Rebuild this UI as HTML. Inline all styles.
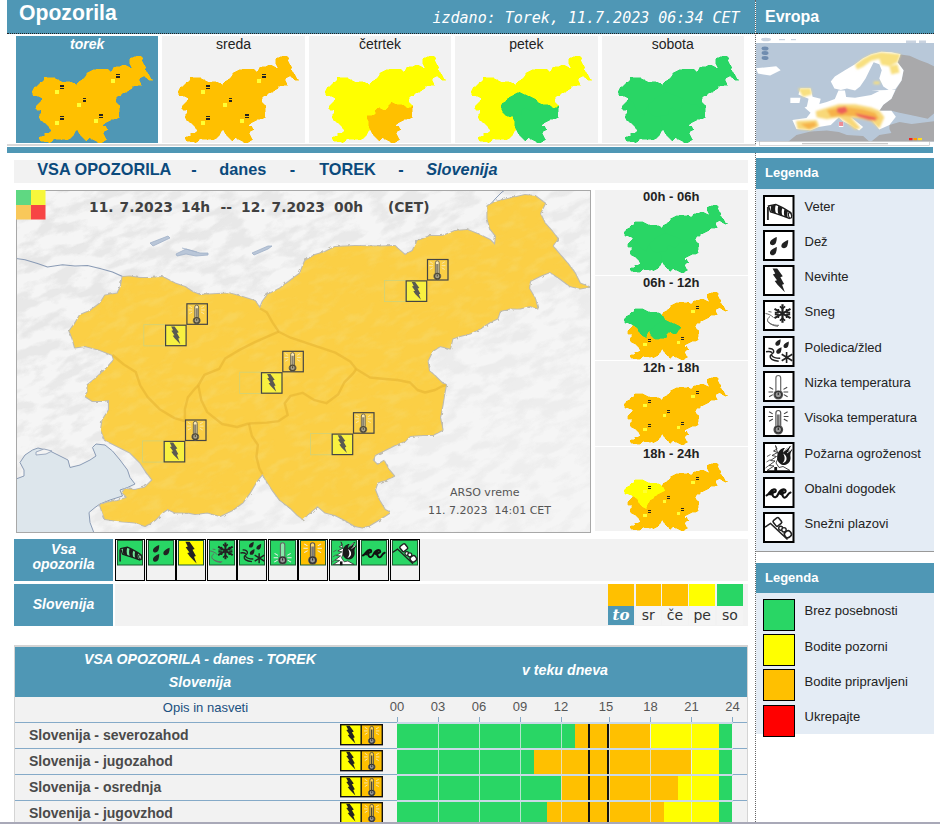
<!DOCTYPE html>
<html lang="sl"><head><meta charset="utf-8"><title>Opozorila</title>
<style>
html,body{margin:0;padding:0;background:#fff;}
body{width:940px;height:824px;position:relative;overflow:hidden;font-family:"Liberation Sans",Arial,sans-serif;color:#222;}
.abs{position:absolute;}
.blue{background:#4f97b5;}
.gray{background:#f2f2f2;}
.hd{color:#fff;font-weight:bold;}
.day{position:absolute;top:36px;width:142.4px;height:107px;background:#f2f2f2;text-align:center;font-size:14px;line-height:17px;color:#222;}
.day span{position:absolute;left:0;right:0;top:0.250px;}
.day.sel{background:#4f97b5;color:#fff;font-weight:bold;font-style:italic;}
.slot{position:absolute;left:594.5px;width:153.5px;height:84.5px;background:#f2f2f2;text-align:center;font-weight:bold;font-size:13px;line-height:14px;color:#222;}
.lrow{position:absolute;left:804.5px;font-size:13px;line-height:14px;color:#222;white-space:nowrap;}
.ibox{position:absolute;left:763px;width:27.5px;height:27px;border:2px solid #000;background:#fff;}
.cbox{position:absolute;left:763px;width:29.5px;height:30px;border:1px solid #000;}
.mapdv{font-family:"DejaVu Sans",sans-serif;}
.icell{position:absolute;top:539px;width:28px;height:40px;border:1px solid #000;background:#f2f2f2;}
.icell svg{position:absolute;left:1px;top:0px;}
.trow{position:absolute;left:15px;width:732px;height:25px;border-top:1px solid #85aac8;background:#f2f2f2;font-weight:bold;font-size:14px;color:#4a4a4a;}
.trow span{position:absolute;left:14px;top:4px;line-height:16px;white-space:nowrap;}
.tick{position:absolute;top:701px;width:30px;margin-left:-15px;text-align:center;font-size:13px;line-height:12px;color:#555;}
.tk{position:absolute;top:717px;width:1px;height:5px;background:#85aac8;}
.dw{position:absolute;top:583.8px;width:25.6px;height:21.8px;}
.dl{position:absolute;top:605.6px;width:25.6px;height:19.2px;background:#f4f4f4;text-align:center;font-family:"DejaVu Sans",sans-serif;font-size:14px;line-height:19px;color:#333;}
</style></head><body>

<svg width="0" height="0" style="position:absolute"><defs>
<path id="slo" d="M121,286 L122.5,277 L130,276.5 L140,278 L150,278 L162.5,277 L175,283.5 L185,287 L192.5,292 L200,295 L217.5,294 L230,293.5 L242.5,297 L255,301 L260,308.5 L262.5,302 L267.5,295 L280,288.5 L290,281 L300,273.5 L305,261 L315,255 L325,252 L335,247 L355,246 L380,246.5 L395,246 L397.5,248.5 L405,255 L412.5,251 L417.5,241 L430,236 L442.5,236 L455,231 L467.5,230 L480,235 L490,240 L495,245 L496,236 L490,228.5 L487.5,218.5 L487.5,206 L495,202 L510,198.5 L525,195 L535,196 L545,203.5 L540,213.5 L545,223.5 L552.5,232 L557.5,238.5 L552.5,246 L560,255 L567.5,263.5 L575,273.5 L580,283.5 L589,287 L580,288.5 L570,286 L560,278.5 L550,272 L540,276 L530,281 L529,288.5 L535,298.5 L537.5,308.5 L530,306 L520,308.5 L510,308.5 L500,311 L497.5,318.5 L490,322 L480,328.5 L470,333.5 L460,336 L452.5,338.5 L450,348.5 L440,346 L432.5,351 L427.5,361 L429,371 L435,376 L442.5,383.5 L446,385 L444,395 L442.5,405 L440,417.5 L442.5,430 L432.5,435 L422.5,435 L410,436 L405,441 L395,445 L385,450 L375,455 L372.5,460 L377.5,465 L384,461 L389,470 L394,476 L385,480 L377.5,482.5 L375,490 L379,500 L385,510 L390,512.5 L380,519 L370,525 L362.5,527.5 L355,526 L345,520 L335,515 L325,512.5 L317.5,506 L310,512.5 L302.5,519 L297.5,515 L290,507.5 L280,500 L272.5,490 L266,480 L262.5,474 L257.5,480 L250,492.5 L242.5,502.5 L232.5,510 L220,516 L207.5,512.5 L195,514 L187.5,512.5 L175,512.5 L167.5,509 L162.5,512.5 L155,520 L145,526 L135,522.5 L117.5,521 L105,519 L102.5,512.5 L100,505 L107.5,502.5 L117.5,501 L127.5,497.5 L122.5,492.5 L125,489 L135,490 L145,487.5 L152.5,480 L145,470 L140,462.5 L130,452.5 L115,445 L105,440 L101,430 L102.5,420 L109,410 L109,400 L102.5,401 L92.5,401 L85,396 L87.5,392.5 L87.5,385 L95,379 L105,370 L114,360 L112.5,355 L100,350 L85,346 L75,347.5 L72.5,338.5 L69.5,331 L75,323.5 L80,315 L90,311 L100,303.5 L105,295.5 L117.5,293.5Z"/>
<path id="r-nw" d="M112.5,355 L100,350 L85,346 L75,347.5 L72.5,338.5 L69.5,331 L75,323.5 L80,315 L90,311 L100,303.5 L105,295.5 L117.5,293.5 L121,286 L122.5,277 L130,276.5 L140,278 L150,278 L162.5,277 L175,283.5 L185,287 L192.5,292 L200,295 L217.5,294 L230,293.5 L242.5,297 L255,301 L260,308.5 L266.8,312.3 L272.8,322.8 L278.7,331.7 L254.9,342.1 L240,349.6 L225.1,358.5 L219.2,368.9 L204.3,374.9 L198.3,385.3 L195.3,388.3 L187.9,397.2 L184.9,409.2 L184.9,421.1 L174.5,418.1 L159.6,409.2 L147.7,397.2 L140.2,385.3 L135.7,371.9 L123.8,364.5Z"/>
<path id="r-sw" d="M262.5,474 L257.5,480 L250,492.5 L242.5,502.5 L232.5,510 L220,516 L207.5,512.5 L195,514 L187.5,512.5 L175,512.5 L167.5,509 L162.5,512.5 L155,520 L145,526 L135,522.5 L117.5,521 L105,519 L102.5,512.5 L100,505 L107.5,502.5 L117.5,501 L127.5,497.5 L122.5,492.5 L125,489 L135,490 L145,487.5 L152.5,480 L145,470 L140,462.5 L130,452.5 L115,445 L105,440 L101,430 L102.5,420 L109,410 L109,400 L102.5,401 L92.5,401 L85,396 L87.5,392.5 L87.5,385 L95,379 L105,370 L114,360 L112.5,355 L123.8,364.5 L135.7,371.9 L140.2,385.3 L147.7,397.2 L159.6,409.2 L174.5,418.1 L184.9,421.1 L184.9,409.2 L187.9,397.2 L195.3,388.3 L198.3,385.3 L201.3,400.2 L207.2,412.1 L222.1,424 L237,427 L248.9,423.5 L251.9,436 L257.9,444.9 L256.4,456.8 L259.4,468.7Z"/>
<path id="r-ce" d="M278.7,331.7 L254.9,342.1 L240,349.6 L225.1,358.5 L219.2,368.9 L204.3,374.9 L198.3,385.3 L201.3,400.2 L207.2,412.1 L222.1,424 L237,427 L248.9,423.5 L266.8,422.6 L278.7,421.1 L287.7,415.1 L284.7,403.2 L290.6,395.8 L302.6,392.8 L314.5,400.2 L326.4,403.2 L338.3,394.3 L344.3,382.3 L353.2,373.4 L356.2,369 L350.2,361.5 L335.3,352.6 L317.5,346.6 L308.5,343.6 L290.6,337.7Z"/>
<path id="r-se" d="M446,385 L444,395 L442.5,405 L440,417.5 L442.5,430 L432.5,435 L422.5,435 L410,436 L405,441 L395,445 L385,450 L375,455 L372.5,460 L377.5,465 L384,461 L389,470 L394,476 L385,480 L377.5,482.5 L375,490 L379,500 L385,510 L390,512.5 L380,519 L370,525 L362.5,527.5 L355,526 L345,520 L335,515 L325,512.5 L317.5,506 L310,512.5 L302.5,519 L297.5,515 L290,507.5 L280,500 L272.5,490 L266,480 L262.5,474 L259.4,468.7 L256.4,456.8 L257.9,444.9 L251.9,436 L248.9,423.5 L266.8,422.6 L278.7,421.1 L287.7,415.1 L284.7,403.2 L290.6,395.8 L302.6,392.8 L314.5,400.2 L326.4,403.2 L338.3,394.3 L344.3,382.3 L353.2,373.4 L356.2,369 L370,377.5 L385,379 L397.5,380 L410,382.5 L417.5,390 L425,392.5 L435,390 L442.5,386Z"/>
<path id="r-ne" d="M260,308.5 L262.5,302 L267.5,295 L280,288.5 L290,281 L300,273.5 L305,261 L315,255 L325,252 L335,247 L355,246 L380,246.5 L395,246 L397.5,248.5 L405,255 L412.5,251 L417.5,241 L430,236 L442.5,236 L455,231 L467.5,230 L480,235 L490,240 L495,245 L496,236 L490,228.5 L487.5,218.5 L487.5,206 L495,202 L510,198.5 L525,195 L535,196 L545,203.5 L540,213.5 L545,223.5 L552.5,232 L557.5,238.5 L552.5,246 L560,255 L567.5,263.5 L575,273.5 L580,283.5 L589,287 L580,288.5 L570,286 L560,278.5 L550,272 L540,276 L530,281 L529,288.5 L535,298.5 L537.5,308.5 L530,306 L520,308.5 L510,308.5 L500,311 L497.5,318.5 L490,322 L480,328.5 L470,333.5 L460,336 L452.5,338.5 L450,348.5 L440,346 L432.5,351 L427.5,361 L429,371 L435,376 L442.5,383.5 L446,385 L442.5,386 L435,390 L425,392.5 L417.5,390 L410,382.5 L397.5,380 L385,379 L370,377.5 L356.2,369 L350.2,361.5 L335.3,352.6 L317.5,346.6 L308.5,343.6 L290.6,337.7 L278.7,331.7 L272.8,322.8 L266.8,312.3Z"/>

<symbol id="i-wind" viewBox="0 0 31.5 31"><path d="M4.900 12v13" stroke="#2a2a2a" stroke-width="1.900" fill="none"/><path d="M5.500 11 L12.700 9.400 C18 11.500 23 14.500 27.800 17.600 L28.600 20.300 L26.200 23.400 C20 21 13 18.500 7.500 16.900Z" fill="var(--sock,#fff)" stroke="#1c1c1c" stroke-width="1.400"/><path d="M8.300 10.400 L13 9.400 C11.800 12 11.800 15.500 13.100 18.700 L8.600 17.200 C7.600 15 7.600 12.500 8.300 10.400Z M15.400 10.600 L19.600 12.700 C18.400 15 18.400 18 19.600 21 L15.600 19.600 C14.500 17 14.500 13.500 15.400 10.600Z M21.500 13.900 L25 15.900 C24 18 24 20.500 25 23 L21.700 21.800 C20.700 19.500 20.700 16.500 21.500 13.900Z" fill="#1c1c1c"/><ellipse cx="27" cy="20.400" rx="1.500" ry="2.800" transform="rotate(-15 27 20.400)" fill="var(--sock,#fff)" stroke="#222" stroke-width="1.200"/></symbol>
<symbol id="i-rain" viewBox="0 0 31.5 31"><g fill="#222"><path d="M13.800 7 C10 8.500 6.500 10.500 7 13.600 C7.800 16.200 12 15.800 13 12.600 C13.600 10.600 13.900 8.800 13.800 7Z"/><path d="M25.200 10 C21.400 11.500 17.900 13.500 18.400 16.600 C19.200 19.200 23.400 18.800 24.400 15.600 C25 13.600 25.300 11.800 25.200 10Z"/><path d="M13.800 17 C10 18.500 6.500 20.500 7 23.600 C7.800 26.200 12 25.800 13 22.600 C13.600 20.600 13.900 18.800 13.800 17Z"/></g></symbol>
<symbol id="i-bolt" viewBox="0 0 31.5 31"><path d="M9.600 3.500 L14.200 3.500 L19.800 11.300 L17.400 12.200 L21.100 19 L19.100 19.800 L21.900 27.300 L14.500 19.700 L11.700 15.900 L14 15.200 L9.900 9.400 L12.200 8.600Z" fill="var(--bolt,#222)"/></symbol>
<symbol id="i-snow" viewBox="0 0 31.5 31"><g stroke="#222" stroke-width="2" fill="none" stroke-linecap="butt"><path d="M19.500 4.300v18.400M11.500 8.900l16 9.200M11.500 18.100l16-9.200" stroke-width="2.200"/><path d="M16.900 6.300l2.600 2.400 2.600-2.400M16.900 20.700l2.600-2.400 2.600 2.400M11.800 12.600l3.300-.2.300-3.400M27.200 14.400l-3.300.2-.3 3.400M11.800 14.400l3.300.2.300 3.400M27.200 12.600l-3.300-.2-.3-3.400" stroke-width="1.600"/></g><g stroke="#666" stroke-width="1" fill="none"><path d="M5.500 11.500l3 .6M2.500 13.500c3 .5 5.500 1.500 8 4"/><path d="M7 16.500c-3 2-3.500 5 0 7 3 1.500 6 2 9 1.800M5 21.500c2 3 6 4.500 10 4.800"/></g></symbol>
<symbol id="i-ice" viewBox="0 0 31.5 31"><g fill="#222"><path d="M17.600 3.300 C14.500 4.500 12 6.200 12.400 8.500 C13 10.500 16.200 10.200 17 7.700 C17.500 6.200 17.700 4.700 17.600 3.300Z"/><path d="M25.800 5.600 C22.700 6.800 20.200 8.500 20.600 10.800 C21.200 12.800 24.400 12.500 25.200 10 C25.700 8.500 25.900 7 25.800 5.600Z"/><path d="M18.500 11.300 C15.400 12.500 12.900 14.200 13.300 16.500 C13.900 18.500 17.100 18.200 17.900 15.700 C18.400 14.200 18.600 12.700 18.500 11.300Z"/></g><g stroke="#222" stroke-width="1.600" fill="none"><path d="M23.600 16v11M18.700 18.200l10.600 6.600M18.700 24.800l10.600-6.600"/><path d="M3 15.800c2.500-.5 4.500-.5 6 .8M5.500 12.500c3-.5 5.500 1 5.200 3.300-.3 2-3 2.300-3.500 4.200-.4 2.500 2 4.500 8.500 5.200M8.500 19c1 2.200 4 3.300 8.700 3.300" stroke-width="1.500"/></g></symbol>
<symbol id="i-cold" viewBox="0 0 31.5 31"><path d="M12.900 6.900a2.400 2.400 0 0 1 4.800 0v13.200a4.300 4.300 0 1 1-4.800 0Z" fill="var(--tube,#fff)" stroke="#666" stroke-width="1.200"/><circle cx="15.300" cy="23.600" r="3.400" fill="#999" stroke="#333" stroke-width="1.500"/><path d="M15.300 21.500v2.500" stroke="#333" stroke-width="1.300"/><g stroke="var(--ray,#444)" stroke-width="1.100"><path d="M5.500 21h4.700M6.500 16.200l3.700 2.200M6.100 25.800l3.700-2.200M25.200 21h-4.700M24.200 16.200l-3.700 2.200M24.600 25.800l-3.700-2.200"/></g></symbol>
<symbol id="i-hot" viewBox="0 0 31.5 31"><path d="M12.900 6.900a2.400 2.400 0 0 1 4.800 0v13.200a4.300 4.300 0 1 1-4.800 0Z" fill="var(--tube,#fff)" stroke="#555" stroke-width="1.200"/><path d="M15.300 8.500v13" stroke="var(--merc,#777)" stroke-width="var(--mw,2.800)"/><circle cx="15.300" cy="23.600" r="3.400" fill="#999" stroke="#333" stroke-width="1.500"/><path d="M15.300 21.500v2.500" stroke="#333" stroke-width="1.300"/><g stroke="var(--ray,#444)" stroke-width="1.100"><path d="M5.200 10.500h4.800M6.100 5.700l3.600 2.200M6.100 15.300l3.800-2.200M25.500 10.500h-4.800M24.600 5.700l-3.600 2.200M24.600 15.300l-3.800-2.200"/></g></symbol>
<symbol id="i-fire" viewBox="0 0 31.5 31"><path d="M12.500 3.500 L14 7 L10.500 9 L14.500 10.500 L9 13.500 L13.500 14.500 L7.500 18.500 L12 19 L6 23.500 L11 24 L4 28.500 L27 28.500 L20 24.500 L16 25.500 L13 21 L16 14 L14 9Z" fill="#fff" stroke="#333" stroke-width=".9"/><path d="M4 14.500l3.500-2M3.500 20l4-2.500M2.500 26l4-3" stroke="#555" stroke-width=".9"/><rect x="11.300" y="25" width="2.800" height="4.500" fill="#111"/><path d="M14.500 12.500 C15.500 8 19.500 5.500 22 6 C20.500 7.500 20 9 20.500 10.500 C22 8 25 4.500 28.500 3.500 C26.500 6 25.500 8 25.500 9.500 C27 8 28.500 7.500 29.500 7.500 C27.500 10 27 12.500 27.500 15 C28 19 25.500 22.500 21.500 23 C18.500 23.300 15.500 21 14.500 18 C14 16 14 14 14.500 12.500Z" fill="#1a1a1a"/><path d="M20 11.500 C22.500 12.500 24 15 23.500 17.500 C23 19.500 21.500 21 19.500 21.300 C22 19 22.500 15 20 11.500Z" fill="#fff"/><path d="M22.500 8.500l3.500-3.500M24 11l4-3" stroke="#fff" stroke-width=".8"/></symbol>
<symbol id="i-coast" viewBox="0 0 31.5 31"><path d="M3.500 18.500 C6.500 17.500 7 12.500 11 12.200 C13.200 12.200 13.500 15 11 15.300 C9.500 15.500 9 17 10 19 C11.500 21.500 14 20 15 17.500 C16.500 14 18 12.500 20.500 12.400 C23 12.400 23.500 15.500 20.800 15.800 C19.500 16 19 17.500 20 19.500 C21.500 21.800 23.500 20 24.500 18.200 C25.500 16.500 26 16 27.500 15.500" fill="none" stroke="#111" stroke-width="2.100" stroke-linecap="round" stroke-linejoin="round"/><path d="M4.500 18 C7 16.500 7.500 13 10.500 12.500 L11 14.500 C9 15 8.500 17 9.200 18.500Z M15.500 17 C17 14 18.500 12.800 20.500 12.600 L20.800 15 C19 15.500 18.500 17.500 19.500 19Z" fill="#111"/></symbol>
<symbol id="i-aval" viewBox="0 0 31.5 31"><path d="M2 15.200 L7.500 11.500 L24.500 27.500" fill="none" stroke="#222" stroke-width="1.500"/><rect x="10.900" y="6.400" width="7" height="7" rx="1.500" transform="rotate(-38 14.400 9.900)" fill="#fff" stroke="#222" stroke-width="1.600"/><circle cx="17.700" cy="16.300" r="2" fill="#fff" stroke="#222" stroke-width="1.400"/><circle cx="21" cy="17.800" r="2.200" fill="#fff" stroke="#222" stroke-width="1.400"/><rect x="21.600" y="19" width="6.600" height="6.400" rx="2.600" transform="rotate(-35 24.900 22.200)" fill="#fff" stroke="#222" stroke-width="1.600"/></symbol>

</defs></svg>
<div class="abs blue" style="left:7px;top:0;width:748px;height:33px;border-bottom:1px dotted #222"></div>
<div class="abs hd" style="left:19px;top:0px;font-size:21.200px;line-height:26px">Opozorila</div>
<div class="abs" style="left:432.500px;top:8.500px;color:#fff;font-family:'DejaVu Sans Mono',monospace;font-style:italic;font-size:15px;line-height:19px;white-space:nowrap">izdano: Torek, 11.7.2023 06:34 CET</div>
<div class="abs blue" style="left:756px;top:0;width:178px;height:33px;border-bottom:1px dotted #222"></div>
<div class="abs hd" style="left:765px;top:7px;font-size:16px;line-height:19px">Evropa</div>
<div class="abs" style="left:755px;top:0;width:0;height:824px;border-left:1px dotted #666"></div>
<div class="day sel" style="left:16px"><span>torek</span></div>
<svg class="abs" style="left:32.0px;top:56px" width="121.3" height="87.2" viewBox="69.5 195 519.5 332.5" preserveAspectRatio="none" shape-rendering="crispEdges"><use href="#r-nw" fill="#ffc000" stroke="#ffc000" stroke-width="2"/><use href="#r-sw" fill="#ffc000" stroke="#ffc000" stroke-width="2"/><use href="#r-ce" fill="#ffc000" stroke="#ffc000" stroke-width="2"/><use href="#r-se" fill="#ffc000" stroke="#ffc000" stroke-width="2"/><use href="#r-ne" fill="#ffc000" stroke="#ffc000" stroke-width="2"/><rect x="167" y="326" width="17" height="15" fill="#ffff33"/><rect x="190" y="307" width="16" height="5" fill="#222"/><rect x="190" y="316" width="16" height="5" fill="#222"/><rect x="263" y="374" width="17" height="15" fill="#ffff33"/><rect x="286" y="355" width="16" height="5" fill="#222"/><rect x="286" y="364" width="16" height="5" fill="#222"/><rect x="408" y="283" width="17" height="15" fill="#ffff33"/><rect x="431" y="264" width="16" height="5" fill="#222"/><rect x="431" y="273" width="16" height="5" fill="#222"/><rect x="166" y="443" width="17" height="15" fill="#ffff33"/><rect x="189" y="424" width="16" height="5" fill="#222"/><rect x="189" y="433" width="16" height="5" fill="#222"/><rect x="334" y="436" width="17" height="15" fill="#ffff33"/><rect x="357" y="417" width="16" height="5" fill="#222"/><rect x="357" y="426" width="16" height="5" fill="#222"/></svg>
<div class="day" style="left:162.4px"><span>sreda</span></div>
<svg class="abs" style="left:178.4px;top:56px" width="121.3" height="87.2" viewBox="69.5 195 519.5 332.5" preserveAspectRatio="none" shape-rendering="crispEdges"><use href="#r-nw" fill="#ffc000" stroke="#ffc000" stroke-width="2"/><use href="#r-sw" fill="#ffc000" stroke="#ffc000" stroke-width="2"/><use href="#r-ce" fill="#ffc000" stroke="#ffc000" stroke-width="2"/><use href="#r-se" fill="#ffc000" stroke="#ffc000" stroke-width="2"/><use href="#r-ne" fill="#ffc000" stroke="#ffc000" stroke-width="2"/><rect x="167" y="326" width="17" height="15" fill="#ffff33"/><rect x="190" y="307" width="16" height="5" fill="#222"/><rect x="190" y="316" width="16" height="5" fill="#222"/><rect x="263" y="374" width="17" height="15" fill="#ffff33"/><rect x="286" y="355" width="16" height="5" fill="#222"/><rect x="286" y="364" width="16" height="5" fill="#222"/><rect x="408" y="283" width="17" height="15" fill="#ffff33"/><rect x="431" y="264" width="16" height="5" fill="#222"/><rect x="431" y="273" width="16" height="5" fill="#222"/><rect x="166" y="443" width="17" height="15" fill="#ffff33"/><rect x="189" y="424" width="16" height="5" fill="#222"/><rect x="189" y="433" width="16" height="5" fill="#222"/><rect x="334" y="436" width="17" height="15" fill="#ffff33"/><rect x="357" y="417" width="16" height="5" fill="#222"/><rect x="357" y="426" width="16" height="5" fill="#222"/></svg>
<div class="day" style="left:308.8px"><span>četrtek</span></div>
<svg class="abs" style="left:324.8px;top:56px" width="121.3" height="87.2" viewBox="69.5 195 519.5 332.5" preserveAspectRatio="none" shape-rendering="crispEdges"><use href="#r-nw" fill="#ffff00" stroke="#ffff00" stroke-width="2"/><use href="#r-sw" fill="#ffff00" stroke="#ffff00" stroke-width="2"/><use href="#r-ce" fill="#ffff00" stroke="#ffff00" stroke-width="2"/><use href="#r-se" fill="#ffc000" stroke="#ffc000" stroke-width="2"/><use href="#r-ne" fill="#ffff00" stroke="#ffff00" stroke-width="2"/></svg>
<div class="day" style="left:455.2px"><span>petek</span></div>
<svg class="abs" style="left:471.20000000000005px;top:56px" width="121.3" height="87.2" viewBox="69.5 195 519.5 332.5" preserveAspectRatio="none" shape-rendering="crispEdges"><use href="#r-nw" fill="#ffff00" stroke="#ffff00" stroke-width="2"/><use href="#r-sw" fill="#ffff00" stroke="#ffff00" stroke-width="2"/><use href="#r-ce" fill="#29d665" stroke="#29d665" stroke-width="2"/><use href="#r-se" fill="#29d665" stroke="#29d665" stroke-width="2"/><use href="#r-ne" fill="#ffff00" stroke="#ffff00" stroke-width="2"/></svg>
<div class="day" style="left:601.6px"><span>sobota</span></div>
<svg class="abs" style="left:617.6px;top:56px" width="121.3" height="87.2" viewBox="69.5 195 519.5 332.5" preserveAspectRatio="none" shape-rendering="crispEdges"><use href="#r-nw" fill="#29d665" stroke="#29d665" stroke-width="2"/><use href="#r-sw" fill="#29d665" stroke="#29d665" stroke-width="2"/><use href="#r-ce" fill="#29d665" stroke="#29d665" stroke-width="2"/><use href="#r-se" fill="#29d665" stroke="#29d665" stroke-width="2"/><use href="#r-ne" fill="#29d665" stroke="#29d665" stroke-width="2"/></svg>
<div class="abs" style="left:7px;top:144px;width:927px;height:2px;background:#d8d8d8"></div>
<div class="abs blue" style="left:7px;top:147px;width:926px;height:6px"></div>
<div class="abs gray" style="left:14px;top:160px;width:734px;height:23px"></div>
<div class="abs" style="left:37.2px;top:159px;font-size:16.300px;font-weight:bold;line-height:21px;color:#0b4a7c;white-space:nowrap;">VSA OPOZORILA</div>
<div class="abs" style="left:191.2px;top:159px;font-size:16.300px;font-weight:bold;line-height:21px;color:#0b4a7c;white-space:nowrap;">-</div>
<div class="abs" style="left:219.2px;top:159px;font-size:16.300px;font-weight:bold;line-height:21px;color:#0b4a7c;white-space:nowrap;">danes</div>
<div class="abs" style="left:289.7px;top:159px;font-size:16.300px;font-weight:bold;line-height:21px;color:#0b4a7c;white-space:nowrap;">-</div>
<div class="abs" style="left:319.2px;top:159px;font-size:16.300px;font-weight:bold;line-height:21px;color:#0b4a7c;white-space:nowrap;">TOREK</div>
<div class="abs" style="left:398.2px;top:159px;font-size:16.300px;font-weight:bold;line-height:21px;color:#0b4a7c;white-space:nowrap;">-</div>
<div class="abs" style="left:426.2px;top:159px;font-size:16.300px;font-weight:bold;line-height:21px;color:#0b4a7c;white-space:nowrap;font-style:italic;">Slovenija</div>
<svg class="abs" style="left:16px;top:190px" width="575" height="343" viewBox="16 190 575 343">
<defs><filter id="relief" x="0" y="0" width="100%" height="100%"><feTurbulence type="fractalNoise" baseFrequency="0.04 0.085" numOctaves="4" seed="11"/><feColorMatrix type="matrix" values="0 0 0 0 0.790  0 0 0 0 0.790  0 0 0 0 0.790  4.500 0 0 0 -1.900"/></filter>
<filter id="rough"><feTurbulence type="fractalNoise" baseFrequency="0.25" numOctaves="2" seed="3"/><feDisplacementMap in="SourceGraphic" scale="3.5"/></filter></defs>
<rect x="16" y="190" width="575" height="343" fill="#f5f5f5"/>
<defs><linearGradient id="rg" x1="0" y1="0" x2="1" y2="1"><stop offset="0" stop-color="#fff"/><stop offset=".45" stop-color="#ccc"/><stop offset="1" stop-color="#555"/></linearGradient><mask id="rm"><rect x="16" y="190" width="575" height="343" fill="url(#rg)"/></mask></defs>
<g mask="url(#rm)"><g transform="rotate(-22 300 360)"><rect x="-60" y="40" width="760" height="660" filter="url(#relief)"/></g></g>
<path d="M16,479 L24,476 24,470 20,462.500 25,455 32.500,450 38,448 50,451 60,456 68,460 70,467.500 80,465 90,460 96,456 92.500,447.500 96,444 105,445 112.500,451 120,460 127.500,470 130,477.500 135,484 127.500,487.500 120,490 122.500,496 110,500 100,504 95,507.500 89,512.500 90,522.500 94,533 16,533Z" fill="#dde6ec" stroke="#8a9bb5" stroke-width="1"/>
<path d="M36,452 l8,-3 8,2 -6,3 -10,1z" fill="#f3f3f3" stroke="#8a9bb5" stroke-width=".8"/>
<path d="M16,258.500 L25,259.700 37.500,263.500 47.500,267 62.500,264.700 75,266 87.500,265.500 100,268.500 112.500,272 122.500,276.500" fill="none" stroke="#8a9bb5" stroke-width="1.100"/>
<path d="M489,206 L496,198 502,192 505,190" fill="none" stroke="#8a9bb5" stroke-width="1"/>
<path d="M150,243 l18,-7 2,2 -17,8z M176,254 l10,-5 14,4 8,0 0,2 -12,1 -10,-2 -9,2z M252,253 l16,-7 4,0 -4,3 -14,6z M182,248 l15,4" fill="#b9c6d8" stroke="#9fb0c8" stroke-width=".8"/>
<g filter="url(#rough)"><use href="#slo" fill="#fbcf45" stroke="#bfbcb0" stroke-width="2.200" stroke-linejoin="round"/></g>
<use href="#slo" fill="#fbcf45"/>
<defs><clipPath id="sloclip"><use href="#slo"/></clipPath><filter id="relief2" x="0" y="0" width="100%" height="100%"><feTurbulence type="fractalNoise" baseFrequency="0.05 0.11" numOctaves="3" seed="5"/><feColorMatrix type="matrix" values="0 0 0 0 0.930  0 0 0 0 0.720  0 0 0 0 0.180  3 0 0 0 -1.350"/></filter></defs>
<g clip-path="url(#sloclip)" opacity=".38"><g transform="rotate(-22 300 360)"><rect x="-60" y="40" width="760" height="660" filter="url(#relief2)"/></g></g>
<path d="M260,308.5 L266.8,312.3 L272.8,322.8 L278.7,331.7 L290.6,337.7 L308.5,343.6 L317.5,346.6 L335.3,352.6 L350.2,361.5 L356.2,369" fill="none" stroke="#e6b432" stroke-opacity=".6" stroke-width="2.400" stroke-linejoin="round"/>
<path d="M278.7,331.7 L254.9,342.1 L240,349.6 L225.1,358.5 L219.2,368.9 L204.3,374.9 L198.3,385.3" fill="none" stroke="#e6b432" stroke-opacity=".6" stroke-width="2.400" stroke-linejoin="round"/>
<path d="M198.3,385.3 L201.3,400.2 L207.2,412.1 L222.1,424 L237,427 L248.9,423.5" fill="none" stroke="#e6b432" stroke-opacity=".6" stroke-width="2.400" stroke-linejoin="round"/>
<path d="M248.9,423.5 L266.8,422.6 L278.7,421.1 L287.7,415.1 L284.7,403.2 L290.6,395.8 L302.6,392.8 L314.5,400.2 L326.4,403.2 L338.3,394.3 L344.3,382.3 L353.2,373.4 L356.2,369" fill="none" stroke="#e6b432" stroke-opacity=".6" stroke-width="2.400" stroke-linejoin="round"/>
<path d="M112.5,355 L123.8,364.5 L135.7,371.9 L140.2,385.3 L147.7,397.2 L159.6,409.2 L174.5,418.1 L184.9,421.1 L184.9,409.2 L187.9,397.2 L195.3,388.3 L198.3,385.3" fill="none" stroke="#e6b432" stroke-opacity=".6" stroke-width="2.400" stroke-linejoin="round"/>
<path d="M248.9,423.5 L251.9,436 L257.9,444.9 L256.4,456.8 L259.4,468.7 L262.5,474" fill="none" stroke="#e6b432" stroke-opacity=".6" stroke-width="2.400" stroke-linejoin="round"/>
<path d="M356.2,369 L370,377.5 L385,379 L397.5,380 L410,382.5 L417.5,390 L425,392.5 L435,390 L442.5,386 L446,385" fill="none" stroke="#e6b432" stroke-opacity=".6" stroke-width="2.400" stroke-linejoin="round"/>
<rect x="16.500" y="190.500" width="574" height="342" fill="none" stroke="#a8a8a8"/>
<rect x="16" y="190" width="15" height="15" fill="#5fd882"/><rect x="31" y="190" width="14.500" height="15" fill="#f7f73b"/><rect x="16" y="205" width="15" height="14.500" fill="#f9c85a"/><rect x="31" y="205" width="14.500" height="14.500" fill="#f74545"/>
<rect x="143.8" y="324.7" width="21.300" height="21.200" fill="none" stroke="#cfd27a" stroke-width=".8"/>
<rect x="165.6" y="325.2" width="20.500" height="20.500" fill="#f8f040" stroke="#444" stroke-width="1.200"/>
<svg x="165.1" y="324.7" width="21.300" height="21.300" viewBox="1.500 1.500 28.500 28" style="--bolt:#5a5a52"><use href="#i-bolt" width="31.500" height="31"/></svg>
<rect x="186.9" y="303.8" width="20.500" height="20.500" fill="#fbcf45" stroke="#444" stroke-width="1.200"/>
<svg x="186.4" y="303.3" width="21.300" height="21.300" viewBox="2.500 2.500 26.500 26" opacity=".85" style="--ray:#f6ecc8;--tube:rgba(255,255,255,.7)"><use href="#i-hot" width="31.500" height="31"/></svg>
<rect x="239.7" y="372.2" width="21.300" height="21.200" fill="none" stroke="#cfd27a" stroke-width=".8"/>
<rect x="261.5" y="372.7" width="20.500" height="20.500" fill="#f8f040" stroke="#444" stroke-width="1.200"/>
<svg x="261" y="372.2" width="21.300" height="21.300" viewBox="1.500 1.500 28.500 28" style="--bolt:#5a5a52"><use href="#i-bolt" width="31.500" height="31"/></svg>
<rect x="282.8" y="351.3" width="20.500" height="20.500" fill="#fbcf45" stroke="#444" stroke-width="1.200"/>
<svg x="282.3" y="350.8" width="21.300" height="21.300" viewBox="2.500 2.500 26.500 26" opacity=".85" style="--ray:#f6ecc8;--tube:rgba(255,255,255,.7)"><use href="#i-hot" width="31.500" height="31"/></svg>
<rect x="384.4" y="280.4" width="21.300" height="21.200" fill="none" stroke="#cfd27a" stroke-width=".8"/>
<rect x="406.2" y="280.9" width="20.500" height="20.500" fill="#f8f040" stroke="#444" stroke-width="1.200"/>
<svg x="405.7" y="280.4" width="21.300" height="21.300" viewBox="1.500 1.500 28.500 28" style="--bolt:#5a5a52"><use href="#i-bolt" width="31.500" height="31"/></svg>
<rect x="427.5" y="259.5" width="20.500" height="20.500" fill="#fbcf45" stroke="#444" stroke-width="1.200"/>
<svg x="427" y="259" width="21.300" height="21.300" viewBox="2.500 2.500 26.500 26" opacity=".85" style="--ray:#f6ecc8;--tube:rgba(255,255,255,.7)"><use href="#i-hot" width="31.500" height="31"/></svg>
<rect x="142.4" y="440.9" width="21.300" height="21.200" fill="none" stroke="#cfd27a" stroke-width=".8"/>
<rect x="164.2" y="441.4" width="20.500" height="20.500" fill="#f8f040" stroke="#444" stroke-width="1.200"/>
<svg x="163.7" y="440.9" width="21.300" height="21.300" viewBox="1.500 1.500 28.500 28" style="--bolt:#5a5a52"><use href="#i-bolt" width="31.500" height="31"/></svg>
<rect x="185.5" y="420" width="20.500" height="20.500" fill="#fbcf45" stroke="#444" stroke-width="1.200"/>
<svg x="185" y="419.5" width="21.300" height="21.300" viewBox="2.500 2.500 26.500 26" opacity=".85" style="--ray:#f6ecc8;--tube:rgba(255,255,255,.7)"><use href="#i-hot" width="31.500" height="31"/></svg>
<rect x="310.4" y="433.6" width="21.300" height="21.200" fill="none" stroke="#cfd27a" stroke-width=".8"/>
<rect x="332.2" y="434.1" width="20.500" height="20.500" fill="#f8f040" stroke="#444" stroke-width="1.200"/>
<svg x="331.7" y="433.6" width="21.300" height="21.300" viewBox="1.500 1.500 28.500 28" style="--bolt:#5a5a52"><use href="#i-bolt" width="31.500" height="31"/></svg>
<rect x="353.5" y="412.7" width="20.500" height="20.500" fill="#fbcf45" stroke="#444" stroke-width="1.200"/>
<svg x="353" y="412.2" width="21.300" height="21.300" viewBox="2.500 2.500 26.500 26" opacity=".85" style="--ray:#f6ecc8;--tube:rgba(255,255,255,.7)"><use href="#i-hot" width="31.500" height="31"/></svg>
<g font-family="DejaVu Sans, sans-serif" fill="#3a3a3a">
<text x="89.1" y="212" font-size="13.800" font-weight="bold" fill="#404040">11.</text>
<text x="119.6" y="212" font-size="13.800" font-weight="bold" fill="#404040">7.2023</text>
<text x="181.1" y="212" font-size="13.800" font-weight="bold" fill="#404040">14h</text>
<text x="220.6" y="212" font-size="13.800" font-weight="bold" fill="#404040">--</text>
<text x="241.1" y="212" font-size="13.800" font-weight="bold" fill="#404040">12.</text>
<text x="271.6" y="212" font-size="13.800" font-weight="bold" fill="#404040">7.2023</text>
<text x="334.1" y="212" font-size="13.800" font-weight="bold" fill="#404040">00h</text>
<text x="387.9" y="212" font-size="13.800" font-weight="bold" fill="#404040">(CET)</text>
<text x="450" y="496" font-size="11" fill="#555" textLength="69.500" lengthAdjust="spacingAndGlyphs">ARSO vreme</text>
<text x="428" y="514" font-size="11" fill="#555" xml:space="preserve" textLength="123" lengthAdjust="spacingAndGlyphs">11. 7.2023  14:01 CET</text>
</g></svg>
<div class="slot" style="top:190px"><div style="padding-top:0.250px">00h - 06h</div></div>
<svg class="abs" style="left:624px;top:205.0px" width="103.5" height="68" viewBox="69.5 195 519.5 332.5" preserveAspectRatio="none" shape-rendering="crispEdges"><use href="#r-nw" fill="#29d665" stroke="#29d665" stroke-width="2"/><use href="#r-sw" fill="#29d665" stroke="#29d665" stroke-width="2"/><use href="#r-ce" fill="#29d665" stroke="#29d665" stroke-width="2"/><use href="#r-se" fill="#29d665" stroke="#29d665" stroke-width="2"/><use href="#r-ne" fill="#29d665" stroke="#29d665" stroke-width="2"/></svg>
<div class="slot" style="top:275.6px"><div style="padding-top:0.250px">06h - 12h</div></div>
<svg class="abs" style="left:624px;top:291.6px" width="103.5" height="68" viewBox="69.5 195 519.5 332.5" preserveAspectRatio="none" shape-rendering="crispEdges"><use href="#r-nw" fill="#29d665" stroke="#29d665" stroke-width="2"/><use href="#r-sw" fill="#ffc000" stroke="#ffc000" stroke-width="2"/><use href="#r-ce" fill="#29d665" stroke="#29d665" stroke-width="2"/><use href="#r-se" fill="#ffc000" stroke="#ffc000" stroke-width="2"/><use href="#r-ne" fill="#ffc000" stroke="#ffc000" stroke-width="2"/><rect x="408" y="283" width="17" height="15" fill="#ffff33"/><rect x="431" y="264" width="16" height="5" fill="#222"/><rect x="431" y="273" width="16" height="5" fill="#222"/><rect x="166" y="443" width="17" height="15" fill="#ffff33"/><rect x="189" y="424" width="16" height="5" fill="#222"/><rect x="189" y="433" width="16" height="5" fill="#222"/><rect x="334" y="436" width="17" height="15" fill="#ffff33"/><rect x="357" y="417" width="16" height="5" fill="#222"/><rect x="357" y="426" width="16" height="5" fill="#222"/></svg>
<div class="slot" style="top:361.2px"><div style="padding-top:0.250px">12h - 18h</div></div>
<svg class="abs" style="left:624px;top:377.2px" width="103.5" height="68" viewBox="69.5 195 519.5 332.5" preserveAspectRatio="none" shape-rendering="crispEdges"><use href="#r-nw" fill="#ffc000" stroke="#ffc000" stroke-width="2"/><use href="#r-sw" fill="#ffc000" stroke="#ffc000" stroke-width="2"/><use href="#r-ce" fill="#ffc000" stroke="#ffc000" stroke-width="2"/><use href="#r-se" fill="#ffc000" stroke="#ffc000" stroke-width="2"/><use href="#r-ne" fill="#ffc000" stroke="#ffc000" stroke-width="2"/><rect x="167" y="326" width="17" height="15" fill="#ffff33"/><rect x="190" y="307" width="16" height="5" fill="#222"/><rect x="190" y="316" width="16" height="5" fill="#222"/><rect x="263" y="374" width="17" height="15" fill="#ffff33"/><rect x="286" y="355" width="16" height="5" fill="#222"/><rect x="286" y="364" width="16" height="5" fill="#222"/><rect x="408" y="283" width="17" height="15" fill="#ffff33"/><rect x="431" y="264" width="16" height="5" fill="#222"/><rect x="431" y="273" width="16" height="5" fill="#222"/><rect x="166" y="443" width="17" height="15" fill="#ffff33"/><rect x="189" y="424" width="16" height="5" fill="#222"/><rect x="189" y="433" width="16" height="5" fill="#222"/><rect x="334" y="436" width="17" height="15" fill="#ffff33"/><rect x="357" y="417" width="16" height="5" fill="#222"/><rect x="357" y="426" width="16" height="5" fill="#222"/></svg>
<div class="slot" style="top:446.8px"><div style="padding-top:0.250px">18h - 24h</div></div>
<svg class="abs" style="left:624px;top:462.79999999999995px" width="103.5" height="68" viewBox="69.5 195 519.5 332.5" preserveAspectRatio="none" shape-rendering="crispEdges"><use href="#r-nw" fill="#ffff00" stroke="#ffff00" stroke-width="2"/><use href="#r-sw" fill="#ffc000" stroke="#ffc000" stroke-width="2"/><use href="#r-ce" fill="#ffc000" stroke="#ffc000" stroke-width="2"/><use href="#r-se" fill="#ffc000" stroke="#ffc000" stroke-width="2"/><use href="#r-ne" fill="#ffc000" stroke="#ffc000" stroke-width="2"/><rect x="167" y="326" width="17" height="15" fill="#ffff33"/><rect x="190" y="307" width="16" height="5" fill="#222"/><rect x="190" y="316" width="16" height="5" fill="#222"/><rect x="263" y="374" width="17" height="15" fill="#ffff33"/><rect x="286" y="355" width="16" height="5" fill="#222"/><rect x="286" y="364" width="16" height="5" fill="#222"/><rect x="408" y="283" width="17" height="15" fill="#ffff33"/><rect x="431" y="264" width="16" height="5" fill="#222"/><rect x="431" y="273" width="16" height="5" fill="#222"/><rect x="166" y="443" width="17" height="15" fill="#ffff33"/><rect x="189" y="424" width="16" height="5" fill="#222"/><rect x="189" y="433" width="16" height="5" fill="#222"/><rect x="334" y="436" width="17" height="15" fill="#ffff33"/><rect x="357" y="417" width="16" height="5" fill="#222"/><rect x="357" y="426" width="16" height="5" fill="#222"/></svg>
<div class="abs gray" style="left:115px;top:539px;width:633px;height:42px"></div>
<div class="abs blue hd" style="left:14px;top:539px;width:99px;height:41.500px;text-align:center;font-style:italic;font-size:14px;line-height:14.500px"><div style="padding-top:3px">Vsa<br>opozorila</div></div>
<div class="icell" style="left:115px"><svg width="26" height="25.500" style="--ray:#eee;--tube:rgba(255,255,255,.45);--sock:rgba(255,255,255,.35)"><rect x=".5" y=".5" width="25" height="24.500" fill="#29d665" stroke="#1d5a30"/><svg x="0" y="0" width="26" height="25.500" viewBox="1.500 1.500 28.500 28"><use href="#i-wind" width="31.500" height="31"/></svg></svg></div>
<div class="icell" style="left:145.55px"><svg width="26" height="25.500" style="--ray:#eee;--tube:rgba(255,255,255,.45);--sock:rgba(255,255,255,.35)"><rect x=".5" y=".5" width="25" height="24.500" fill="#29d665" stroke="#1d5a30"/><svg x="0" y="0" width="26" height="25.500" viewBox="1.500 1.500 28.500 28"><use href="#i-rain" width="31.500" height="31"/></svg></svg></div>
<div class="icell" style="left:176.1px"><svg width="26" height="25.500" style="--ray:#eee;--tube:rgba(255,255,255,.45);--sock:rgba(255,255,255,.35)"><rect x=".5" y=".5" width="25" height="24.500" fill="#ffff00" stroke="#1d5a30"/><svg x="0" y="0" width="26" height="25.500" viewBox="1.500 1.500 28.500 28"><use href="#i-bolt" width="31.500" height="31"/></svg></svg></div>
<div class="icell" style="left:206.65px"><svg width="26" height="25.500" style="--ray:#eee;--tube:rgba(255,255,255,.45);--sock:rgba(255,255,255,.35)"><rect x=".5" y=".5" width="25" height="24.500" fill="#29d665" stroke="#1d5a30"/><svg x="0" y="0" width="26" height="25.500" viewBox="1.500 1.500 28.500 28"><use href="#i-snow" width="31.500" height="31"/></svg></svg></div>
<div class="icell" style="left:237.2px"><svg width="26" height="25.500" style="--ray:#eee;--tube:rgba(255,255,255,.45);--sock:rgba(255,255,255,.35)"><rect x=".5" y=".5" width="25" height="24.500" fill="#29d665" stroke="#1d5a30"/><svg x="0" y="0" width="26" height="25.500" viewBox="1.500 1.500 28.500 28"><use href="#i-ice" width="31.500" height="31"/></svg></svg></div>
<div class="icell" style="left:267.75px"><svg width="26" height="25.500" style="--ray:#eee;--tube:rgba(255,255,255,.45);--sock:rgba(255,255,255,.35)"><rect x=".5" y=".5" width="25" height="24.500" fill="#29d665" stroke="#1d5a30"/><svg x="0" y="0" width="26" height="25.500" viewBox="1.500 1.500 28.500 28"><use href="#i-cold" width="31.500" height="31"/></svg></svg></div>
<div class="icell" style="left:298.3px"><svg width="26" height="25.500" style="--ray:#eee;--tube:rgba(255,255,255,.45);--sock:rgba(255,255,255,.35)"><rect x=".5" y=".5" width="25" height="24.500" fill="#ffc000" stroke="#1d5a30"/><svg x="0" y="0" width="26" height="25.500" viewBox="1.500 1.500 28.500 28"><use href="#i-hot" width="31.500" height="31"/></svg></svg></div>
<div class="icell" style="left:328.85px"><svg width="26" height="25.500" style="--ray:#eee;--tube:rgba(255,255,255,.45);--sock:rgba(255,255,255,.35)"><rect x=".5" y=".5" width="25" height="24.500" fill="#29d665" stroke="#1d5a30"/><svg x="0" y="0" width="26" height="25.500" viewBox="1.500 1.500 28.500 28"><use href="#i-fire" width="31.500" height="31"/></svg></svg></div>
<div class="icell" style="left:359.4px"><svg width="26" height="25.500" style="--ray:#eee;--tube:rgba(255,255,255,.45);--sock:rgba(255,255,255,.35)"><rect x=".5" y=".5" width="25" height="24.500" fill="#29d665" stroke="#1d5a30"/><svg x="0" y="0" width="26" height="25.500" viewBox="1.500 1.500 28.500 28"><use href="#i-coast" width="31.500" height="31"/></svg></svg></div>
<div class="icell" style="left:389.95px"><svg width="26" height="25.500" style="--ray:#eee;--tube:rgba(255,255,255,.45);--sock:rgba(255,255,255,.35)"><rect x=".5" y=".5" width="25" height="24.500" fill="#29d665" stroke="#1d5a30"/><svg x="0" y="0" width="26" height="25.500" viewBox="1.500 1.500 28.500 28"><use href="#i-aval" width="31.500" height="31"/></svg></svg></div>
<div class="abs gray" style="left:115px;top:584px;width:633px;height:41.500px"></div>
<div class="abs blue hd" style="left:14px;top:584px;width:99px;height:41.500px;text-align:center;font-style:italic;font-size:14px;line-height:41px">Slovenija</div>
<div class="dw" style="left:608px;width:26px;background:#ffc000"></div>
<div class="dl" style="left:608px;width:26px;background:#4f97b5;color:#fff;font-family:'DejaVu Serif',serif;font-weight:bold;font-style:italic;font-size:15px">to</div>
<div class="dw" style="left:635.9px;width:24.7px;background:#ffc000"></div>
<div class="dl" style="left:635.9px;width:24.7px">sr</div>
<div class="dw" style="left:662.2px;width:25.6px;background:#ffc000"></div>
<div class="dl" style="left:662.2px;width:25.6px">če</div>
<div class="dw" style="left:689px;width:26.4px;background:#ffff00"></div>
<div class="dl" style="left:689px;width:26.4px">pe</div>
<div class="dw" style="left:717px;width:25.8px;background:#29d665"></div>
<div class="dl" style="left:717px;width:25.8px">so</div>
<div class="abs" style="left:14px;top:645px;width:734px;height:180px;background:#d4d4d4"></div>
<div class="abs blue" style="left:15px;top:647px;width:732px;height:50px"></div>
<div class="abs hd" style="left:15px;top:647.500px;width:370px;text-align:center;font-style:italic;font-size:14.200px;line-height:23px">VSA OPOZORILA - danes - TOREK<br>Slovenija</div>
<div class="abs hd" style="left:384px;top:659.500px;width:362px;text-align:center;font-style:italic;font-size:14.200px;line-height:20px">v teku dneva</div>
<div class="abs gray" style="left:15px;top:697px;width:732px;height:25px"></div>
<div class="abs" style="left:15px;top:699.500px;width:381px;text-align:center;font-size:13px;line-height:15px;color:#1a5080">Opis in nasveti</div>
<div class="tick" style="left:397px">00</div><div class="tk" style="left:396.5px"></div>
<div class="tick" style="left:438px">03</div><div class="tk" style="left:437.5px"></div>
<div class="tick" style="left:479px">06</div><div class="tk" style="left:478.5px"></div>
<div class="tick" style="left:520px">09</div><div class="tk" style="left:519.5px"></div>
<div class="tick" style="left:561px">12</div><div class="tk" style="left:560.5px"></div>
<div class="tick" style="left:606px">15</div><div class="tk" style="left:609px"></div>
<div class="tick" style="left:650.501px">18</div><div class="tk" style="left:650.001px"></div>
<div class="tick" style="left:691.501px">21</div><div class="tk" style="left:691.001px"></div>
<div class="tick" style="left:732.501px">24</div><div class="tk" style="left:732.001px"></div>
<div class="trow" style="top:722px"><span>Slovenija - severozahod</span></div>
<svg class="abs" style="left:340px;top:724.2px;--ray:#f4ead0;--tube:rgba(255,255,255,.3);--merc:#333;--mw:1.600" width="43" height="21.500"><rect x=".7" y=".7" width="20.600" height="20" fill="#ffff00"/><rect x="21.300" y=".7" width="21" height="20" fill="#ffc000"/><svg x="0" y="0" width="21.500" height="21.400" viewBox="1.500 1.500 28.500 28"><use href="#i-bolt" width="31.500" height="31"/></svg><svg x="21.300" y="0" width="21.500" height="21.400" viewBox="1.500 1.500 28.500 28"><use href="#i-hot" width="31.500" height="31"/></svg><rect x=".7" y=".7" width="41.600" height="20" fill="none" stroke="#111" stroke-width="1.400"/><path d="M21.200 .7v20" stroke="#111" stroke-width="1.400"/></svg>
<div class="abs" style="left:397px;top:723.5px;width:177.667px;height:24.500px;background:#29d665"></div>
<div class="abs" style="left:574.667px;top:723.5px;width:75.8335px;height:24.500px;background:#ffc000"></div>
<div class="abs" style="left:650.501px;top:723.5px;width:68.3335px;height:24.500px;background:#ffff00"></div>
<div class="abs" style="left:718.834px;top:723.5px;width:13.6667px;height:24.500px;background:#29d665"></div>
<div class="trow" style="top:748px"><span>Slovenija - jugozahod</span></div>
<svg class="abs" style="left:340px;top:750.2px;--ray:#f4ead0;--tube:rgba(255,255,255,.3);--merc:#333;--mw:1.600" width="43" height="21.500"><rect x=".7" y=".7" width="20.600" height="20" fill="#ffff00"/><rect x="21.300" y=".7" width="21" height="20" fill="#ffc000"/><svg x="0" y="0" width="21.500" height="21.400" viewBox="1.500 1.500 28.500 28"><use href="#i-bolt" width="31.500" height="31"/></svg><svg x="21.300" y="0" width="21.500" height="21.400" viewBox="1.500 1.500 28.500 28"><use href="#i-hot" width="31.500" height="31"/></svg><rect x=".7" y=".7" width="41.600" height="20" fill="none" stroke="#111" stroke-width="1.400"/><path d="M21.200 .7v20" stroke="#111" stroke-width="1.400"/></svg>
<div class="abs" style="left:397px;top:749.5px;width:136.667px;height:24.500px;background:#29d665"></div>
<div class="abs" style="left:533.667px;top:749.5px;width:157.834px;height:24.500px;background:#ffc000"></div>
<div class="abs" style="left:691.501px;top:749.5px;width:27.3334px;height:24.500px;background:#ffff00"></div>
<div class="abs" style="left:718.834px;top:749.5px;width:13.6667px;height:24.500px;background:#29d665"></div>
<div class="trow" style="top:774px"><span>Slovenija - osrednja</span></div>
<svg class="abs" style="left:340px;top:776.2px;--ray:#f4ead0;--tube:rgba(255,255,255,.3);--merc:#333;--mw:1.600" width="43" height="21.500"><rect x=".7" y=".7" width="20.600" height="20" fill="#ffff00"/><rect x="21.300" y=".7" width="21" height="20" fill="#ffc000"/><svg x="0" y="0" width="21.500" height="21.400" viewBox="1.500 1.500 28.500 28"><use href="#i-bolt" width="31.500" height="31"/></svg><svg x="21.300" y="0" width="21.500" height="21.400" viewBox="1.500 1.500 28.500 28"><use href="#i-hot" width="31.500" height="31"/></svg><rect x=".7" y=".7" width="41.600" height="20" fill="none" stroke="#111" stroke-width="1.400"/><path d="M21.200 .7v20" stroke="#111" stroke-width="1.400"/></svg>
<div class="abs" style="left:397px;top:775.5px;width:164px;height:24.500px;background:#29d665"></div>
<div class="abs" style="left:561px;top:775.5px;width:116.834px;height:24.500px;background:#ffc000"></div>
<div class="abs" style="left:677.834px;top:775.5px;width:41.0001px;height:24.500px;background:#ffff00"></div>
<div class="abs" style="left:718.834px;top:775.5px;width:13.6667px;height:24.500px;background:#29d665"></div>
<div class="trow" style="top:800px"><span>Slovenija - jugovzhod</span></div>
<svg class="abs" style="left:340px;top:802.2px;--ray:#f4ead0;--tube:rgba(255,255,255,.3);--merc:#333;--mw:1.600" width="43" height="21.500"><rect x=".7" y=".7" width="20.600" height="20" fill="#ffff00"/><rect x="21.300" y=".7" width="21" height="20" fill="#ffc000"/><svg x="0" y="0" width="21.500" height="21.400" viewBox="1.500 1.500 28.500 28"><use href="#i-bolt" width="31.500" height="31"/></svg><svg x="21.300" y="0" width="21.500" height="21.400" viewBox="1.500 1.500 28.500 28"><use href="#i-hot" width="31.500" height="31"/></svg><rect x=".7" y=".7" width="41.600" height="20" fill="none" stroke="#111" stroke-width="1.400"/><path d="M21.200 .7v20" stroke="#111" stroke-width="1.400"/></svg>
<div class="abs" style="left:397px;top:801.5px;width:150.334px;height:24.500px;background:#29d665"></div>
<div class="abs" style="left:547.334px;top:801.5px;width:116.834px;height:24.500px;background:#ffc000"></div>
<div class="abs" style="left:664.167px;top:801.5px;width:54.6668px;height:24.500px;background:#ffff00"></div>
<div class="abs" style="left:718.834px;top:801.5px;width:13.6667px;height:24.500px;background:#29d665"></div>
<div class="abs" style="left:437.5px;top:723px;width:1px;height:101px;background:rgba(225,235,240,.75)"></div>
<div class="abs" style="left:478.5px;top:723px;width:1px;height:101px;background:rgba(225,235,240,.75)"></div>
<div class="abs" style="left:519.5px;top:723px;width:1px;height:101px;background:rgba(225,235,240,.75)"></div>
<div class="abs" style="left:560.5px;top:723px;width:1px;height:101px;background:rgba(225,235,240,.75)"></div>
<div class="abs" style="left:609px;top:723px;width:1px;height:101px;background:rgba(225,235,240,.75)"></div>
<div class="abs" style="left:650.001px;top:723px;width:1px;height:101px;background:rgba(225,235,240,.75)"></div>
<div class="abs" style="left:691.001px;top:723px;width:1px;height:101px;background:rgba(225,235,240,.75)"></div>
<div class="abs" style="left:588px;top:723px;width:2px;height:101px;background:#111"></div>
<div class="abs" style="left:607px;top:723px;width:2px;height:101px;background:#111"></div>
<div class="abs" style="left:397px;top:722px;width:336px;height:1.500px;background:#c9d9e6"></div>
<div class="abs" style="left:397px;top:748px;width:336px;height:1.500px;background:#c9d9e6"></div>
<div class="abs" style="left:397px;top:774px;width:336px;height:1.500px;background:#c9d9e6"></div>
<div class="abs" style="left:397px;top:800px;width:336px;height:1.500px;background:#c9d9e6"></div>
<svg class="abs" style="left:756px;top:36px" width="178" height="110" viewBox="0 0 178 110">
<defs><filter id="b1" x="-5%" y="-5%" width="110%" height="110%"><feGaussianBlur stdDeviation="3.2"/></filter><filter id="b2" x="-10%" y="-10%" width="120%" height="120%"><feGaussianBlur stdDeviation="6"/></filter>
<clipPath id="ecl"><rect x="0" y="7" width="178" height="98.600"/></clipPath></defs>
<rect width="178" height="110" fill="#fff"/>
<rect x="0" y="7" width="178" height="98.600" fill="#b8c8d9"/>
<g clip-path="url(#ecl)"><g transform="translate(-6.070,-6.070) scale(0.20214)">
<g filter="url(#b1)">
<path d="M745,122 L790,128 840,150 880,165 920,185 920,405 880,440 800,422 740,410 700,400 640,400 660,370 700,340 720,300 750,250 760,200 730,160Z" fill="#a9a9ab"/>
<path d="M690,470 L740,455 800,465 860,458 920,450 920,560 590,560 640,520 700,510 690,490Z" fill="#a9a9ab"/>
<path d="M180,560 L230,520 300,502 380,498 440,505 480,520 560,525 600,560Z" fill="#a9a9ab"/>
<path d="M400,255 L420,230 470,200 520,170 560,140 600,120 650,108 700,110 745,120 730,160 760,200 750,250 720,292 690,300 660,280 640,240 652,200 640,170 612,160 592,200 572,240 545,280 520,300 480,290 450,297 418,290Z" fill="#fff"/>
<path d="M600,300 L720,296 700,340 660,370 640,400 700,400 722,430 690,470 640,492 600,442 560,432 500,432 560,480 540,497 500,472 460,452 440,432 400,470 340,480 300,496 230,490 210,446 280,436 300,410 270,384 300,372 340,368 380,356 420,342 438,300 470,300 476,332 520,336 600,322 640,302Z" fill="#fff"/>
<path d="M250,288 L300,288 310,330 350,340 340,380 280,386 290,340 240,320Z M200,335 L250,335 245,361 200,361Z M30,190 L130,180 152,200 100,226 40,216Z M440,455 l22,0 0,25 -22,0Z" fill="#fff"/>
</g>
<g filter="url(#b2)">
<path d="M520,172 L560,142 600,122 650,110 745,120 730,160 690,180 650,172 640,142 600,152 560,182 530,196Z M690,180 l40,-10 10,40 -40,10Z M612,255 l30,0 0,14 -30,0Z" fill="#f8e080"/>
<path d="M238,290 L300,288 306,320 262,332Z" fill="#f8e080"/>
<path d="M325,402 L440,368 520,368 600,384 640,400 665,432 640,488 600,452 560,442 500,432 548,486 520,492 470,452 440,432 380,442 330,432Z" fill="#f8d878"/>
<path d="M228,450 L330,445 342,476 300,496 235,490Z" fill="#f8d878"/>
<path d="M380,396 L470,380 560,392 620,410 640,440 600,448 540,430 470,425 400,430Z M250,465 L320,455 330,475 290,490Z" fill="#f6b24a"/>
<path d="M432,385 l40,-6 12,24 -30,14 -24,-10Z M520,412 l50,10 50,10 6,16 -40,-4 -50,-14Z" fill="#ee6058"/>
</g>
<rect x="441" y="455" width="20" height="20" fill="#ee8c94" filter="url(#b1)"/>
</g></g>
<rect x="153" y="102" width="3.500" height="2.200" fill="#e22"/><rect x="157.500" y="102" width="3.500" height="2.200" fill="#f90"/><rect x="162" y="102" width="4" height="2.200" fill="#fd2"/>
<g fill="#5f7fa6" opacity=".8"><ellipse cx="9" cy="12.500" rx="3.500" ry="2"/><ellipse cx="9" cy="17" rx="3.500" ry="2"/><ellipse cx="9" cy="22" rx="3.500" ry="2"/></g>
<g fill="#c9d3e0"><ellipse cx="10" cy="3.500" rx="5" ry="1.800"/><rect x="23" y="3" width="6" height="1.200"/><rect x="35" y="3" width="5" height="1.200"/><rect x="150" y="4.500" width="10" height="2.500"/><rect x="163" y="4.500" width="7" height="2.500"/></g>
<rect x="3.500" y="105.600" width="170" height="4" fill="#fff" stroke="#bbb" stroke-width=".6"/><rect x="46" y="107.200" width="86" height="1" fill="#bbb"/>
</svg>
<div class="abs blue" style="left:756px;top:158px;width:178px;height:31px"></div>
<div class="abs hd" style="left:765px;top:165px;font-size:13px;line-height:15px">Legenda</div>
<div class="abs" style="left:756px;top:189px;width:178px;height:362px;background:#e4ecf5;border-bottom:1px solid #999"></div>
<svg class="abs" style="left:763px;top:194.5px" width="31.500" height="31"><rect x="1" y="1" width="29.500" height="29" fill="#fff" stroke="#000" stroke-width="2"/><use href="#i-wind" x="0" y="0" width="31.500" height="31"/></svg>
<div class="lrow" style="top:199.5px">Veter</div>
<svg class="abs" style="left:763px;top:229.8px" width="31.500" height="31"><rect x="1" y="1" width="29.500" height="29" fill="#fff" stroke="#000" stroke-width="2"/><use href="#i-rain" x="0" y="0" width="31.500" height="31"/></svg>
<div class="lrow" style="top:234.8px">Dež</div>
<svg class="abs" style="left:763px;top:265.1px" width="31.500" height="31"><rect x="1" y="1" width="29.500" height="29" fill="#fff" stroke="#000" stroke-width="2"/><use href="#i-bolt" x="0" y="0" width="31.500" height="31"/></svg>
<div class="lrow" style="top:270.1px">Nevihte</div>
<svg class="abs" style="left:763px;top:300.4px" width="31.500" height="31"><rect x="1" y="1" width="29.500" height="29" fill="#fff" stroke="#000" stroke-width="2"/><use href="#i-snow" x="0" y="0" width="31.500" height="31"/></svg>
<div class="lrow" style="top:305.4px">Sneg</div>
<svg class="abs" style="left:763px;top:335.7px" width="31.500" height="31"><rect x="1" y="1" width="29.500" height="29" fill="#fff" stroke="#000" stroke-width="2"/><use href="#i-ice" x="0" y="0" width="31.500" height="31"/></svg>
<div class="lrow" style="top:340.7px">Poledica/žled</div>
<svg class="abs" style="left:763px;top:371px" width="31.500" height="31"><rect x="1" y="1" width="29.500" height="29" fill="#fff" stroke="#000" stroke-width="2"/><use href="#i-cold" x="0" y="0" width="31.500" height="31"/></svg>
<div class="lrow" style="top:376px">Nizka temperatura</div>
<svg class="abs" style="left:763px;top:406.3px" width="31.500" height="31"><rect x="1" y="1" width="29.500" height="29" fill="#fff" stroke="#000" stroke-width="2"/><use href="#i-hot" x="0" y="0" width="31.500" height="31"/></svg>
<div class="lrow" style="top:411.3px">Visoka temperatura</div>
<svg class="abs" style="left:763px;top:441.6px" width="31.500" height="31"><rect x="1" y="1" width="29.500" height="29" fill="#fff" stroke="#000" stroke-width="2"/><use href="#i-fire" x="0" y="0" width="31.500" height="31"/></svg>
<div class="lrow" style="top:446.6px">Požarna ogroženost</div>
<svg class="abs" style="left:763px;top:476.9px" width="31.500" height="31"><rect x="1" y="1" width="29.500" height="29" fill="#fff" stroke="#000" stroke-width="2"/><use href="#i-coast" x="0" y="0" width="31.500" height="31"/></svg>
<div class="lrow" style="top:481.9px">Obalni dogodek</div>
<svg class="abs" style="left:763px;top:512.2px" width="31.500" height="31"><rect x="1" y="1" width="29.500" height="29" fill="#fff" stroke="#000" stroke-width="2"/><use href="#i-aval" x="0" y="0" width="31.500" height="31"/></svg>
<div class="lrow" style="top:517.2px">Snežni plazovi</div>
<div class="abs blue" style="left:756px;top:563px;width:178px;height:30px"></div>
<div class="abs hd" style="left:765px;top:569.500px;font-size:13px;line-height:15px">Legenda</div>
<div class="abs" style="left:756px;top:593px;width:178px;height:141px;background:#e4ecf5"></div>
<div class="cbox" style="top:598.7px;background:#29d665"></div>
<div class="lrow" style="top:604.2px">Brez posebnosti</div>
<div class="cbox" style="top:634px;background:#ffff00"></div>
<div class="lrow" style="top:639.5px">Bodite pozorni</div>
<div class="cbox" style="top:669.3px;background:#ffc000"></div>
<div class="lrow" style="top:674.8px">Bodite pripravljeni</div>
<div class="cbox" style="top:704.6px;background:#ff0000"></div>
<div class="lrow" style="top:710.1px">Ukrepajte</div>
<div class="abs" style="left:0;top:822px;width:940px;height:2px;background:#a9a9b8"></div>
</body></html>
